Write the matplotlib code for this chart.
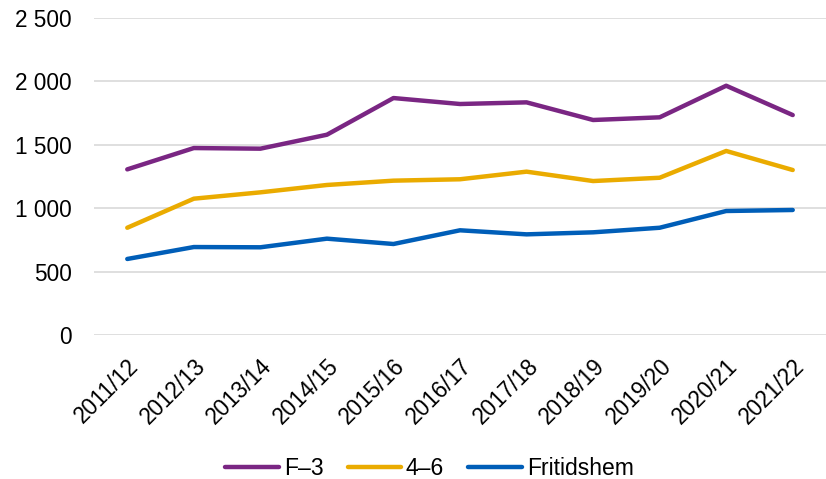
import matplotlib
matplotlib.use("Agg")
import matplotlib.pyplot as plt
from matplotlib.ticker import FuncFormatter, MultipleLocator

plt.rcParams["font.family"] = ["Liberation Sans", "DejaVu Sans"]

# Läsår på x-axeln
years = ["2011/12", "2012/13", "2013/14", "2014/15", "2015/16", "2016/17",
         "2017/18", "2018/19", "2019/20", "2020/21", "2021/22"]

f3 = [1305, 1473, 1468, 1578, 1867, 1820, 1833, 1694, 1715, 1964, 1733]
g46 = [845, 1074, 1124, 1182, 1216, 1227, 1287, 1213, 1239, 1450, 1300]
fritids = [599, 693, 691, 759, 717, 825, 793, 809, 845, 977, 985]

series = [
    ("F\u20133", f3, "#7A2683"),
    ("4\u20136", g46, "#EAAB00"),
    ("Fritidshem", fritids, "#005EB8"),
]

fig = plt.figure(figsize=(8.26, 4.79), dpi=100)
ax = fig.add_axes([94 / 826, 1 - 335 / 479, 1 - 94 / 826, (335 - 17.7) / 479])

x = range(len(years))
for label, values, color in series:
    ax.plot(x, values, color=color, linewidth=3.2, solid_capstyle="round",
            solid_joinstyle="round", label=label)

ax.set_ylim(0, 2500)
ax.set_xlim(-0.5, len(years) - 0.5)
ax.yaxis.set_major_locator(MultipleLocator(500))
ax.yaxis.set_major_formatter(FuncFormatter(lambda v, p: f"{v:,.0f}".replace(",", " ")))
ax.grid(axis="y", color="#D9D9D9", linewidth=1.2)
ax.set_axisbelow(True)
for side in ["top", "right", "left", "bottom"]:
    ax.spines[side].set_visible(False)

ax.set_xticks(list(x))
ax.set_xticklabels(years, rotation=45, ha="right", va="top", rotation_mode="anchor")
ax.tick_params(axis="both", length=0, labelsize=16.3, colors="black")
ax.tick_params(axis="y", pad=16)
ax.tick_params(axis="x", pad=14)

fig.legend(loc="lower center", bbox_to_anchor=(0.52, -0.045), ncol=3, frameon=False,
           fontsize=16.5, handlelength=2.35, handletextpad=0.2, columnspacing=1.05)

fig.savefig("out.png", dpi=100)
